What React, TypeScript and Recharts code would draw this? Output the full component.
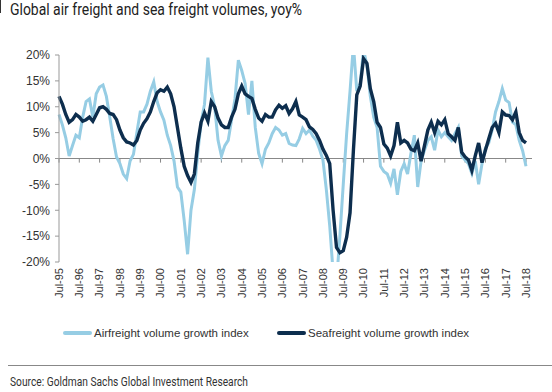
import { LineChart, Line, XAxis, YAxis, ReferenceLine, Legend } from "recharts"

// bi-monthly readings, Jul-95 .. Jul-18 (yoy %)
const months = ["Jul", "Sep", "Nov", "Jan", "Mar", "May"]
const startYear = 1995
const endYear = 2018

const airfreight = [
  8.5, 6.5, 4, 0.5, 2.5, 4.5,
  4, 8, 11, 11.5, 8, 12.5,
  13.8, 14.2, 12, 8, 3.8, 0.3,
  -1, -3, -3.9, -0.5, 0.8, 5,
  9, 9, 10.5, 13, 14.8, 11,
  9, 7.4, 4.5, 2.5, -0.5, -5.5,
  -6.5, -12, -18.5, -10, -6, 1,
  7, 10.5, 19.5, 13, 10, 3.5,
  0.5, 2.5, 3.5, 7.5, 11.5, 19,
  17, 14.5, 8.5, 15, 6, 1,
  -1, 1.8, 3, 4.8, 6, 5.5,
  4.5, 4.8, 2.9, 2.6, 2.5, 3.8,
  5.8, 4.8, 5.5, 4.3, 3.5, 1.8,
  -0.3, -6, -13, -22, -24, -15,
  -5, 4.8, 13, 22, 13, 14.5,
  21, 18, 12, 8, 6, -1.5,
  -2.5, -3, -4.8, -2, -7, -2.5,
  -1, -3, 1, 4.5, -5.5, -0.5,
  1.6, 3.5, 4.2, 1.6, 5.5, 4.2,
  5, 4.2, 3.5, 4.8, 6, 0.5,
  -0.3, -1, -2.9, -0.5, -5, -1,
  2, 3, 5.5, 9, 11, 13.5,
  11.3, 10.8, 7, 6.5, 3.5, 1.5,
  -1.5,
]

const seafreight = [
  12, 10.5, 8.5, 7, 7.5, 8.5,
  8, 7.2, 7.5, 8, 7.2, 8.5,
  9.8, 10, 9.5, 8.7, 8.5, 7.5,
  5.5, 4, 3.2, 3, 2.6, 3.5,
  5.5, 6.8, 7.7, 9, 11, 12.7,
  13.3, 13, 13.8, 12.5, 10, 6,
  2, -1.5, -3.3, -4.6, -3, 3,
  7, 8.8, 7.2, 11, 10, 7.8,
  6.5, 6, 6, 8, 9.5, 12.5,
  14, 12.5, 12, 11.6, 9.5, 7.8,
  7.2, 8.5, 8, 8, 9.4, 10.3,
  9.7, 10.2, 8.7, 9.6, 11, 8.4,
  8, 7.5, 6.1, 5.6, 4.8, 3.5,
  1.8, 0.6, -1, -10, -17.2, -18.2,
  -17.8, -15.2, -10.5, 1.6, 12.3, 14,
  19.3, 18.4, 13.5, 11, 7, 6,
  2.8, 2, 0.5, 2.5, 7, 3,
  3.5, 3, 1.8, 1.5, 3, -0.5,
  2.5, 5.5, 7, 5, 7.2, 6.5,
  7.5, 4.8, 4.2, 3.5, 6, 1.2,
  0.3, -0.3, -2.3, 0.5, 3, -0.8,
  1.6, 3.8, 6, 6.8, 5, 9,
  8.4, 8.3, 7.5, 9, 5, 3.5,
  3,
]

const yTicks = [-20, -15, -10, -5, 0, 5, 10, 15, 20]

const series = [
  { key: "air", name: "Airfreight volume growth index", color: "#96CDE4", width: 3 },
  { key: "sea", name: "Seafreight volume growth index", color: "#0D2E4E", width: 3.4 },
]

const dates: string[] = []
for (let y = startYear; y <= endYear; y++) {
  months.forEach((m, i) => {
    const yr = i < 3 ? y : y + 1
    dates.push(`${m}-${String(yr % 100).padStart(2, "0")}`)
  })
}

const data = airfreight.map((v, i) => ({
  date: dates[i],
  air: v,
  sea: seafreight[i],
}))

const yearTicks = data.map(d => d.date).filter(d => d.startsWith("Jul"))

const DateTick = ({ x, y, payload }: any) => (
  <text
    transform={`translate(${x},${y}) rotate(-90)`}
    textAnchor="end"
    dy="0.35em"
    fontSize={11}
    fill="#333"
    fontFamily="Liberation Sans, Arial, sans-serif"
  >
    {payload.value}
  </text>
)

const LegendContent = () => (
  <div style={{ position: "relative", height: 20, fontFamily: "Liberation Sans, Arial, sans-serif", fontSize: 11.5, color: "#333" }}>
    {series.map((s, i) => (
      <div key={s.key} style={{ position: "absolute", left: i === 0 ? 54 : 268, top: 0, height: 20, display: "flex", alignItems: "center" }}>
        <span style={{ display: "inline-block", width: 29, height: 4, background: s.color, borderRadius: 2, marginRight: 2 }} />
        <span>{s.name}</span>
      </div>
    ))}
  </div>
)

export default function App() {
  return (
    <div style={{ position: "absolute", left: 0, top: 0, width: 552, height: 392, background: "#fff" }}>
      <svg width={552} height={392} style={{ position: "absolute", left: 0, top: 0 }}>
        <line x1={0.5} y1={0} x2={0.5} y2={13} stroke="#333" />
        <text x={10} y={15} fontSize={16} fill="#222" fontFamily="Liberation Sans Narrow, Roboto, sans-serif" textLength={292} lengthAdjust="spacingAndGlyphs">
          Global air freight and sea freight volumes, yoy%
        </text>
        <line x1={8} y1={365.5} x2={552} y2={365.5} stroke="#888" />
        <text x={10} y={386} fontSize={12.5} fill="#333" fontFamily="Liberation Sans Narrow, Roboto, sans-serif" textLength={238} lengthAdjust="spacingAndGlyphs">
          Source: Goldman Sachs Global Investment Research
        </text>
      </svg>
      <div style={{ position: "absolute", left: 0, top: 0 }}>
        <LineChart width={552} height={392} data={data} margin={{ top: 55, right: 20, bottom: 49, left: 9 }}>
          <XAxis
            dataKey="date"
            interval={5}
            axisLine={false}
            tickLine={false}
            tickSize={0}
            tickMargin={6}
            height={61}
            padding={{ left: 0, right: 6 }}
            tick={<DateTick />}
          />
          <YAxis
            domain={[-20, 20]}
            ticks={yTicks}
            allowDataOverflow
            width={50}
            tickSize={4}
            tickMargin={5}
            stroke="#999"
            tick={{ fontSize: 12, fill: "#333", fontFamily: "Liberation Sans, Arial, sans-serif" }}
            tickFormatter={(v: number) => `${v}%`}
          />
          <ReferenceLine y={0} stroke="#888" />
          {yearTicks.map(t => (
            <ReferenceLine key={t} segment={[{ x: t, y: 0 }, { x: t, y: -0.8 }]} stroke="#888" />
          ))}
          {series.map(s => (
            <Line
              key={s.key}
              type="linear"
              dataKey={s.key}
              name={s.name}
              stroke={s.color}
              strokeWidth={s.width}
              dot={false}
              isAnimationActive={false}
            />
          ))}
          <Legend verticalAlign="bottom" content={<LegendContent />} />
        </LineChart>
      </div>
    </div>
  )
}
